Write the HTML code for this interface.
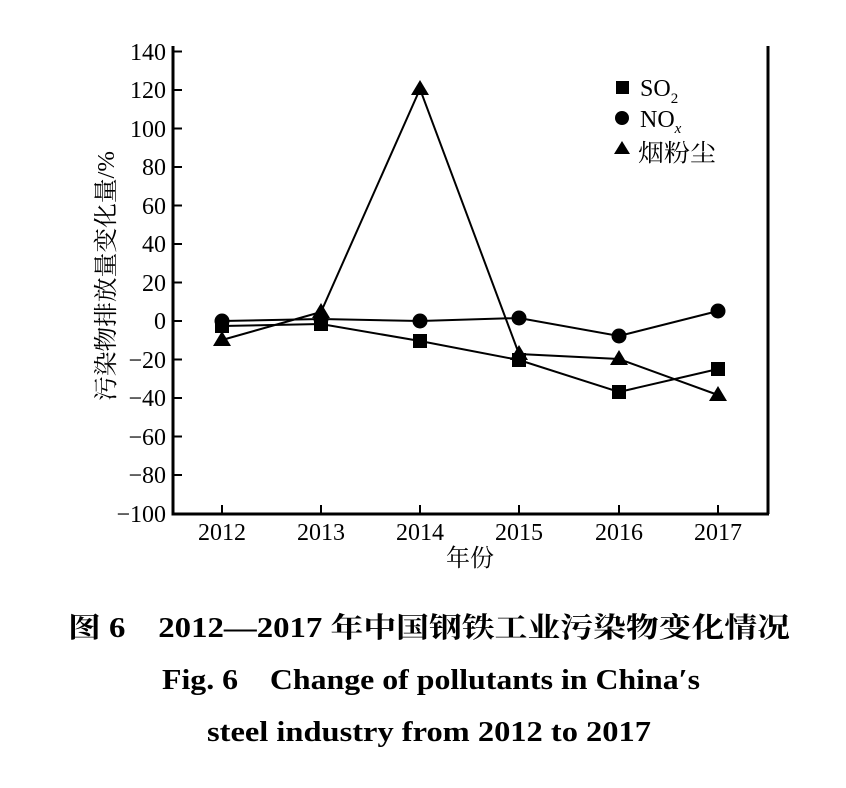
<!DOCTYPE html>
<html><head><meta charset="utf-8"><style>
html,body{margin:0;padding:0;background:#fff;width:846px;height:788px;overflow:hidden}
svg text{font-family:"Liberation Serif","Noto Serif CJK SC",serif;fill:#000}
</style></head><body>
<svg width="846" height="788" viewBox="0 0 846 788" xmlns="http://www.w3.org/2000/svg">
<g stroke="#000" stroke-width="3" fill="none">
<line x1="173" y1="46" x2="173" y2="514"/>
<line x1="171.5" y1="514" x2="769" y2="514"/>
<line x1="768" y1="46" x2="768" y2="514"/>
</g>
<g stroke="#000" stroke-width="2">
<line x1="173" y1="51.5" x2="182" y2="51.5"/><line x1="173" y1="90" x2="182" y2="90"/>
<line x1="173" y1="128.5" x2="182" y2="128.5"/><line x1="173" y1="167" x2="182" y2="167"/>
<line x1="173" y1="205.5" x2="182" y2="205.5"/><line x1="173" y1="244" x2="182" y2="244"/>
<line x1="173" y1="282.5" x2="182" y2="282.5"/><line x1="173" y1="321" x2="182" y2="321"/>
<line x1="173" y1="359.5" x2="182" y2="359.5"/><line x1="173" y1="398" x2="182" y2="398"/>
<line x1="173" y1="436.5" x2="182" y2="436.5"/><line x1="173" y1="475" x2="182" y2="475"/>
<line x1="222" y1="514" x2="222" y2="505"/><line x1="321" y1="514" x2="321" y2="505"/>
<line x1="420" y1="514" x2="420" y2="505"/><line x1="519" y1="514" x2="519" y2="505"/>
<line x1="619" y1="514" x2="619" y2="505"/><line x1="718" y1="514" x2="718" y2="505"/>
</g>
<g font-size="24" text-anchor="end">
<text x="166" y="60">140</text><text x="166" y="98">120</text><text x="166" y="137">100</text>
<text x="166" y="175">80</text><text x="166" y="214">60</text><text x="166" y="252">40</text>
<text x="166" y="291">20</text><text x="166" y="329">0</text><text x="166" y="368">−20</text>
<text x="166" y="406">−40</text><text x="166" y="445">−60</text><text x="166" y="483">−80</text>
<text x="166" y="522">−100</text>
</g>
<g font-size="24" text-anchor="middle">
<text x="222" y="540">2012</text><text x="321" y="540">2013</text><text x="420" y="540">2014</text>
<text x="519" y="540">2015</text><text x="619" y="540">2016</text><text x="718" y="540">2017</text>
<text x="470" y="566">年份</text>
</g>
<text transform="translate(114,276) rotate(-90)" font-size="24" text-anchor="middle" textLength="250" lengthAdjust="spacingAndGlyphs">污染物排放量变化量/%</text>
<g stroke="#000" stroke-width="2" fill="none">
<polyline points="222,326 321,324 420,341 519,360 619,392 718,369"/>
<polyline points="222,321 321,319 420,321 519,318 619,336 718,311"/>
<polyline points="222,340 321,312 420,89 519,354 619,359 718,395"/>
</g>
<g fill="#000">
<rect x="215" y="319" width="14" height="14"/><rect x="314" y="317" width="14" height="14"/>
<rect x="413" y="334" width="14" height="14"/><rect x="512" y="353" width="14" height="14"/>
<rect x="612" y="385" width="14" height="14"/><rect x="711" y="362" width="14" height="14"/>
<circle cx="222" cy="321" r="7.5"/><circle cx="321" cy="319" r="7.5"/><circle cx="420" cy="321" r="7.5"/>
<circle cx="519" cy="318" r="7.5"/><circle cx="619" cy="336" r="7.5"/><circle cx="718" cy="311" r="7.5"/>
<polygon points="222,331 213,346 231,346"/><polygon points="321,303 312,318 330,318"/>
<polygon points="420,80 411,95 429,95"/><polygon points="519,345 510,360 528,360"/>
<polygon points="619,350 610,365 628,365"/><polygon points="718,386 709,401 727,401"/>
<rect x="616" y="81" width="13" height="13"/>
<circle cx="622" cy="118" r="7"/>
<polygon points="622,141 614,154 630,154"/>
</g>
<g font-size="24">
<text x="640" y="96">SO<tspan font-size="15" dy="7">2</tspan></text>
<text x="640" y="127">NO<tspan font-size="15" font-style="italic" dy="6">x</tspan></text>
<text x="638" y="161" textLength="78" lengthAdjust="spacingAndGlyphs">烟粉尘</text>
</g>
<g font-weight="bold" font-size="28">
<text x="68" y="637" textLength="722" lengthAdjust="spacingAndGlyphs">图 6　2012—2017 年中国钢铁工业污染物变化情况</text>
<text x="162" y="689" textLength="538" lengthAdjust="spacingAndGlyphs">Fig. 6　Change of pollutants in China′s</text>
<text x="207" y="741" textLength="444" lengthAdjust="spacingAndGlyphs">steel industry from 2012 to 2017</text>
</g>
</svg>
</body></html>
